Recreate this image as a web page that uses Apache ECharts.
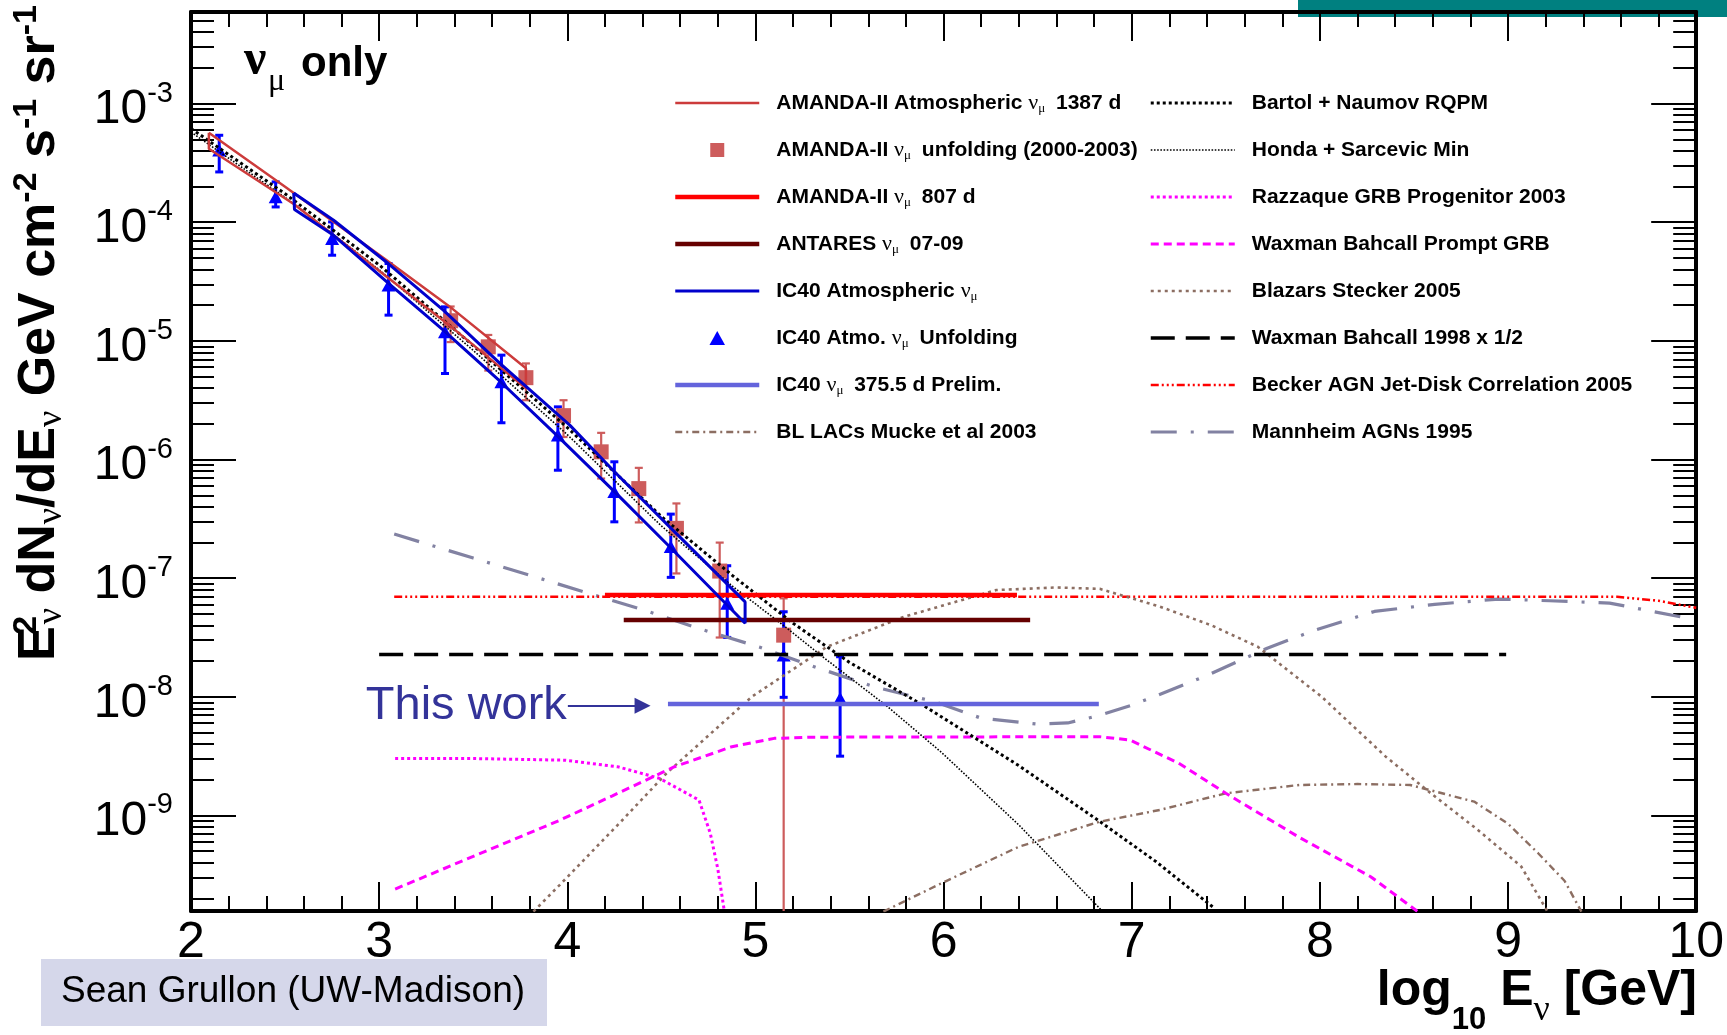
<!DOCTYPE html>
<html>
<head>
<meta charset="utf-8">
<script src="https://cdn.jsdelivr.net/npm/echarts@6/dist/echarts.min.js"></script>
<style>
  html, body { margin: 0; padding: 0; background: #ffffff; }
  #chart { width: 1727px; height: 1035px; }
</style>
</head>
<body>
<div id="chart"></div>
<script>
// x: log10(E / GeV).  Fluxes E^2 dN/dE [GeV cm^-2 s^-1 sr^-1] are stored as log10 exponents.
const xTickValues = [2, 3, 4, 5, 6, 7, 8, 9, 10];
const yDecadeExps = [-9, -8, -7, -6, -5, -4, -3];
const yRangeExp = [-9.805, -2.228];

// AMANDA-II atmospheric 1387 d band (upper and lower edge)
const amanda1387Upper = [[2.095, -3.245], [2.5, -3.70], [3.04, -4.32], [3.39, -4.73], [3.78, -5.23]];
const amanda1387Lower = [[2.095, -3.38], [2.55, -3.85], [3.04, -4.46], [3.39, -4.89], [3.78, -5.40]];

// AMANDA-II unfolding (2000-2003)
const amandaUnfoldE    = [3.38, 3.58, 3.78, 3.98, 4.18, 4.38, 4.58, 4.81, 5.15];
const amandaUnfoldFlux = [-4.83, -5.05, -5.31, -5.63, -5.935, -6.245, -6.58, -6.94, -7.48];
const amandaUnfoldHi   = [-4.71, -4.95, -5.19, -5.50, -5.775, -6.07, -6.37, -6.70, -7.17];
const amandaUnfoldLo   = [-5.01, -5.25, -5.50, -5.81, -6.16, -6.53, -6.96, -7.50, -12];

// Upper limits
const amanda807  = [[4.20, -7.142], [6.39, -7.142]];
const antares    = [[4.30, -7.353], [6.46, -7.353]];
const ic40Prelim = [[4.535, -8.06], [6.825, -8.06]];
const wb1998     = [[3.0, -7.643], [8.99, -7.643]];

// IC40 atmospheric band
const ic40AtmUpper = [[2.546, -3.753], [2.758, -3.983], [3.05, -4.35], [3.341, -4.74], [3.642, -5.19],
                      [4.013, -5.71], [4.243, -6.09], [4.544, -6.567], [4.945, -7.20]];
const ic40AtmLower = [[2.55, -3.893], [2.758, -4.11], [3.05, -4.516], [3.341, -4.91], [3.642, -5.34],
                      [3.943, -5.794], [4.252, -6.272], [4.544, -6.735], [4.945, -7.38]];

// IC40 atmospheric unfolding
const ic40UnfoldE    = [2.15, 2.45, 2.75, 3.05, 3.35, 3.65, 3.95, 4.25, 4.55, 4.85, 5.15, 5.45];
const ic40UnfoldFlux = [-3.393, -3.787, -4.138, -4.531, -4.924, -5.345, -5.794, -6.272, -6.735, -7.212, -7.648, -8.013];
const ic40UnfoldHi   = [-3.267, -3.66, -3.997, -4.348, -4.713, -5.12, -5.556, -6.019, -6.46, -6.895, -7.283, -7.662];
const ic40UnfoldLo   = [-3.576, -3.871, -4.278, -4.783, -5.275, -5.69, -6.09, -6.525, -6.993, -7.499, -8.004, -8.5];

// Models
const blLacs = [[5.68, -9.81], [5.99, -9.57], [6.4, -9.263], [6.83, -9.052], [7.15, -8.953], [7.5, -8.813],
                [7.89, -8.743], [8.2, -8.735], [8.48, -8.743], [8.82, -8.883], [9.0, -9.07], [9.16, -9.318],
                [9.3, -9.55], [9.39, -9.81]];
const bartol = [[2.0, -3.21], [2.5, -3.76], [3.0, -4.36], [3.5, -5.04], [4.0, -5.73], [4.5, -6.48], [4.88, -6.98],
                [5.2, -7.38], [5.5, -7.71], [5.89, -8.07], [6.4, -8.58], [6.83, -9.05], [7.13, -9.39], [7.43, -9.77]];
const honda  = [[2.0, -3.24], [2.5, -3.79], [3.0, -4.40], [3.5, -5.08], [4.0, -5.79], [4.5, -6.56], [4.88, -7.07],
                [5.15, -7.40], [5.38, -7.69], [5.7, -8.08], [5.99, -8.47], [6.4, -9.08], [6.84, -9.80]];
const razzaque = [[3.085, -8.52], [3.5, -8.52], [3.99, -8.534], [4.27, -8.59], [4.49, -8.687], [4.70, -8.87],
                  [4.76, -9.15], [4.80, -9.45], [4.835, -9.81]];
const wbPrompt = [[3.085, -9.62], [3.96, -9.04], [4.24, -8.834], [4.57, -8.589], [4.875, -8.42], [5.1, -8.35],
                  [5.3, -8.34], [6.83, -8.336], [6.99, -8.364], [7.25, -8.56], [7.5, -8.813], [7.886, -9.18],
                  [8.27, -9.516], [8.52, -9.81]];
const stecker = [[3.82, -9.81], [3.96, -9.585], [4.28, -9.06], [4.53, -8.64], [4.98, -8.0], [5.38, -7.578],
                 [5.79, -7.325], [6.28, -7.10], [6.6, -7.078], [6.83, -7.09], [7.15, -7.24], [7.42, -7.395],
                 [7.67, -7.578], [8.01, -8.0], [8.35, -8.504], [8.59, -8.813], [8.84, -9.122], [9.07, -9.43],
                 [9.21, -9.81]];
const becker = [[3.08, -7.157], [9.58, -7.157], [9.8, -7.19], [10.0, -7.25]];
const mannheim = [[3.08, -6.628], [3.5, -6.83], [3.82, -6.985], [4.13, -7.136], [4.43, -7.28], [4.71, -7.43],
                  [5.02, -7.58], [5.32, -7.75], [5.63, -7.915], [5.95, -8.04], [6.2, -8.18], [6.5, -8.23],
                  [6.66, -8.22], [6.82, -8.16], [7.0, -8.07], [7.1, -8.01], [7.4, -7.82], [7.72, -7.59],
                  [7.97, -7.44], [8.29, -7.28], [8.61, -7.22], [8.95, -7.176], [9.22, -7.19], [9.54, -7.21],
                  [9.93, -7.33]];

// "This work" pointer (log10 E range, flux exponent)
const thisWorkArrow = [[4.003, -8.075], [4.40, -8.075]];

const col1Names = ['AMANDA-II Atmospheric νμ 1387 d', 'AMANDA-II νμ unfolding (2000-2003)', 'AMANDA-II νμ 807 d',
                   'ANTARES νμ 07-09', 'IC40 Atmospheric νμ', 'IC40 Atmo. νμ Unfolding', 'IC40 νμ 375.5 d Prelim.',
                   'BL LACs Mucke et al 2003'];
const col2Names = ['Bartol + Naumov RQPM', 'Honda + Sarcevic Min', 'Razzaque GRB Progenitor 2003',
                   'Waxman Bahcall Prompt GRB', 'Blazars Stecker 2005', 'Waxman Bahcall 1998 x 1/2',
                   'Becker AGN Jet-Disk Correlation 2005', 'Mannheim AGNs 1995'];

// ---------------------------------------------------------------------------
const SANS = '"Liberation Sans", Arial, Helvetica, sans-serif';
const SERIF = '"Liberation Serif", "DejaVu Serif", "Times New Roman", serif';
const p10 = e => Math.pow(10, e);
const toXY = pts => pts.map(p => [p[0], p10(p[1])]);
// outline of a band: upper edge, then lower edge back, closed
const closedBand = (up, lo) => up.concat(lo.slice().reverse(), [up[0]]);

const yMin = p10(yRangeExp[0]);
const yMax = p10(yRangeExp[1]);
const yMajor = yDecadeExps.map(p10);
const yMinor = [];
for (let e = -10; e <= -3; e++) {
  for (let m = 2; m <= 9; m++) {
    const v = m * p10(e);
    if (v > yMin && v < yMax) yMinor.push(v);
  }
}

const SQUARE = 'path://M0,0L10,0L10,10L0,10Z';
const TRIANGLE = 'path://M5,0L10,9L0,9Z';

function lineSeries(name, pts, color, width, type) {
  return {
    type: 'line', name, data: toXY(pts), symbol: 'none', showSymbol: false, smooth: false,
    clip: true, silent: true, animation: false,
    lineStyle: { color, width, type: type || 'solid' }, itemStyle: { color },
    emphasis: { disabled: true }
  };
}

function errorBars(name, xs, hi, lo, color, width, cap) {
  return {
    type: 'custom', name, silent: true, clip: true, animation: false,
    data: xs.map((x, i) => [x, p10(hi[i]), p10(lo[i])]),
    encode: { x: 0, y: [1, 2] },
    renderItem(params, api) {
      const x = api.value(0);
      const a = api.coord([x, api.value(1)]);
      const b = api.coord([x, api.value(2)]);
      const style = { stroke: color, lineWidth: width, fill: null };
      return {
        type: 'group',
        children: [
          { type: 'line', shape: { x1: a[0], y1: a[1], x2: b[0], y2: b[1] }, style },
          { type: 'line', shape: { x1: a[0] - cap, y1: a[1], x2: a[0] + cap, y2: a[1] }, style },
          { type: 'line', shape: { x1: b[0] - cap, y1: b[1], x2: b[0] + cap, y2: b[1] }, style }
        ]
      };
    }
  };
}

function markerSeries(name, xs, ys, symbol, size, color) {
  return {
    type: 'scatter', name, data: xs.map((x, i) => [x, p10(ys[i])]), symbol, symbolSize: size,
    symbolKeepAspect: true, silent: true, animation: false, itemStyle: { color, opacity: 1 },
    emphasis: { disabled: true }
  };
}

const ic40PrelimSeries = lineSeries('IC40 νμ 375.5 d Prelim.', ic40Prelim, '#6464dc', 4.5);
ic40PrelimSeries.markLine = {
  silent: true, animation: false,
  symbol: ['none', 'triangle'], symbolSize: 16,
  lineStyle: { color: '#333399', width: 2, type: 'solid' },
  itemStyle: { color: '#333399' },
  label: {
    show: true, position: 'start', distance: 1, formatter: 'This work',
    color: '#333399', fontSize: 47, fontFamily: SANS
  },
  data: [[{ coord: [thisWorkArrow[0][0], p10(thisWorkArrow[0][1])] },
          { coord: [thisWorkArrow[1][0], p10(thisWorkArrow[1][1])] }]]
};

const series = [
  lineSeries('Mannheim AGNs 1995', mannheim, '#8282a2', 3.2, [26, 14, 3, 14]),
  lineSeries('Becker AGN Jet-Disk Correlation 2005', becker, '#ff0000', 2.6, [8, 3, 2, 3, 2, 3, 2, 3]),
  lineSeries('Blazars Stecker 2005', stecker, '#8c6e62', 2.6, [3, 4]),
  lineSeries('BL LACs Mucke et al 2003', blLacs, '#8c6e62', 2.4, [7, 4, 2, 4]),
  lineSeries('Waxman Bahcall Prompt GRB', wbPrompt, '#ff00ff', 3, [8, 5]),
  lineSeries('Razzaque GRB Progenitor 2003', razzaque, '#ff00ff', 3, [3, 3]),
  lineSeries('Waxman Bahcall 1998 x 1/2', wb1998, '#000000', 3.5, [24, 11]),
  lineSeries('Honda + Sarcevic Min', honda, '#000000', 1.6, [1.6, 1.6]),
  lineSeries('Bartol + Naumov RQPM', bartol, '#000000', 3, [3, 3]),
  ic40PrelimSeries,
  lineSeries('ANTARES νμ 07-09', antares, '#660000', 4.5),
  lineSeries('AMANDA-II νμ 807 d', amanda807, '#ff0000', 4.5),
  lineSeries('AMANDA-II Atmospheric νμ 1387 d', closedBand(amanda1387Upper, amanda1387Lower), '#cc3b3b', 2.5),
  errorBars('amandaUnfoldErrors', amandaUnfoldE, amandaUnfoldHi, amandaUnfoldLo, '#cd5c5c', 2.2, 4),
  markerSeries('AMANDA-II νμ unfolding (2000-2003)', amandaUnfoldE, amandaUnfoldFlux, SQUARE, 15, '#cd5c5c'),
  lineSeries('IC40 Atmospheric νμ', closedBand(ic40AtmUpper, ic40AtmLower), '#0000cc', 3),
  errorBars('ic40UnfoldErrors', ic40UnfoldE, ic40UnfoldHi, ic40UnfoldLo, '#0000ff', 3, 4),
  markerSeries('IC40 Atmo. νμ Unfolding', ic40UnfoldE, ic40UnfoldFlux, TRIANGLE, 14, '#0000ff')
];

const xBase = {
  type: 'value', min: 2, max: 10, interval: 1,
  splitLine: { show: false },
  axisLine: { show: true, onZero: false, lineStyle: { color: '#000', width: 4 } },
  axisTick: { show: true, inside: true, length: 29, lineStyle: { color: '#000', width: 2 } },
  minorTick: { show: true, splitNumber: 5, length: 15, lineStyle: { color: '#000', width: 2 } }
};
const yBase = {
  type: 'log', logBase: 10, min: yMin, max: yMax,
  splitLine: { show: false }, minorTick: { show: false }, minorSplitLine: { show: false },
  axisLine: { show: true, onZero: false, lineStyle: { color: '#000', width: 4 } }
};
const yMajorTick = { show: true, inside: true, length: 45, customValues: yMajor, lineStyle: { color: '#000', width: 2 } };
const yMinorTick = { show: true, inside: true, length: 23, customValues: yMinor, lineStyle: { color: '#000', width: 2 } };

const legendText = {
  fontFamily: SANS, fontWeight: 'bold', fontSize: 21, color: '#000', lineHeight: 24,
  padding: [0, 0, 0, 12],
  rich: {
    nu: { fontFamily: SERIF, fontWeight: 'normal', fontSize: 22, lineHeight: 24, color: '#000' },
    mu: { fontFamily: SERIF, fontWeight: 'normal', fontSize: 13, lineHeight: 24, verticalAlign: 'top',
          padding: [11, 5, 0, 0], color: '#000' }
  }
};
const legendFormatter = name => name.replace('νμ', '{nu|ν}{mu|μ}');
const legendCommon = {
  orient: 'vertical', itemWidth: 84, itemHeight: 14, itemGap: 23, selectedMode: false,
  symbolKeepAspect: true, textStyle: legendText, formatter: legendFormatter,
  lineStyle: { width: 'inherit' }, itemStyle: { opacity: 0 }, padding: 0
};

const option = {
  animation: false,
  backgroundColor: '#ffffff',
  grid: { left: 191, right: 29, top: 12, bottom: 124, containLabel: false },
  xAxis: [
    Object.assign({}, xBase, {
      position: 'bottom',
      axisLabel: { show: true, fontSize: 50, color: '#000', fontFamily: SANS, margin: 7 }
    }),
    Object.assign({}, xBase, { position: 'top', axisLabel: { show: false } })
  ],
  yAxis: [
    Object.assign({}, yBase, {
      position: 'left', axisTick: yMajorTick,
      axisLabel: {
        show: true, customValues: yMajor, margin: 18, color: '#000', fontFamily: SANS,
        padding: [9, 0, 0, 0],
        formatter: v => '{b|10}{s|' + Math.round(Math.log10(v)) + '}',
        rich: {
          b: { fontSize: 48, fontFamily: SANS, color: '#000', lineHeight: 58, verticalAlign: 'top', padding: [7, 0, 0, 0] },
          s: { fontSize: 29, fontFamily: SANS, color: '#000', lineHeight: 30, verticalAlign: 'top' }
        }
      }
    }),
    Object.assign({}, yBase, { position: 'left', axisLine: { show: false }, axisTick: yMinorTick, axisLabel: { show: false } }),
    Object.assign({}, yBase, { position: 'right', axisTick: yMajorTick, axisLabel: { show: false } }),
    Object.assign({}, yBase, { position: 'right', axisLine: { show: false }, axisTick: yMinorTick, axisLabel: { show: false } })
  ],
  legend: [
    Object.assign({}, legendCommon, {
      left: 673, top: 91,
      data: col1Names.map(n => {
        if (n === 'AMANDA-II νμ unfolding (2000-2003)') return { name: n, icon: SQUARE, itemStyle: { opacity: 1 } };
        if (n === 'IC40 Atmo. νμ Unfolding') return { name: n, icon: TRIANGLE, itemStyle: { opacity: 1 } };
        return n;
      })
    }),
    Object.assign({}, legendCommon, { left: 1149, top: 91, data: col2Names })
  ],
  series: series,
  graphic: [
    { type: 'rect', shape: { x: 1298, y: 0, width: 429, height: 17 }, style: { fill: '#008080' }, silent: true },
    { type: 'rect', shape: { x: 41, y: 959, width: 506, height: 67 }, style: { fill: '#d5d7ea' }, silent: true },
    { type: 'text', x: 61, y: 992, silent: true,
      style: { text: 'Sean Grullon (UW-Madison)', fontSize: 37, fontFamily: SANS, fill: '#000',
               textAlign: 'left', textVerticalAlign: 'middle', verticalAlign: 'middle' } },
    // νμ only
    { type: 'text', x: 244, y: 61, silent: true,
      style: { text: 'ν', fontSize: 50, fontFamily: SERIF, fontWeight: 'bold', fill: '#000',
               textAlign: 'left', textVerticalAlign: 'middle', verticalAlign: 'middle' } },
    { type: 'text', x: 268, y: 82, silent: true,
      style: { text: 'μ', fontSize: 32, fontFamily: SERIF, fill: '#000',
               textAlign: 'left', textVerticalAlign: 'middle', verticalAlign: 'middle' } },
    { type: 'text', x: 301, y: 64, silent: true,
      style: { text: 'only', fontSize: 42, fontFamily: SANS, fontWeight: 'bold', fill: '#000',
               textAlign: 'left', textVerticalAlign: 'middle', verticalAlign: 'middle' } },
    // y-axis title
    { type: 'text', x: 40, y: 333, rotation: Math.PI / 2, silent: true,
      style: {
        text: '{b|E}{s0|2}{n|ν}{b| dN}{n|ν}{b|/dE}{n|ν}{b| GeV cm}{s|-2}{b| s}{s|-1}{b| sr}{s|-1}',
        textAlign: 'center', textVerticalAlign: 'middle', verticalAlign: 'middle', fill: '#000',
        rich: {
          b: { fontSize: 52, fontFamily: SANS, fontWeight: 'bold', lineHeight: 60, verticalAlign: 'middle', fill: '#000', color: '#000' },
          s: { fontSize: 34, fontFamily: SANS, fontWeight: 'bold', lineHeight: 26, verticalAlign: 'top', fill: '#000', color: '#000' },
          s0: { fontSize: 34, fontFamily: SANS, fontWeight: 'bold', lineHeight: 26, verticalAlign: 'top', width: 2, fill: '#000', color: '#000' },
          n: { fontSize: 36, fontFamily: SERIF, fontWeight: 'normal', lineHeight: 22, verticalAlign: 'bottom', fill: '#000', color: '#000' }
        }
      } },
    // x-axis title
    { type: 'text', x: 1697, y: 991, silent: true,
      style: {
        text: '{b|log}{d|10}{b| E}{n|ν}{b| [GeV]}',
        textAlign: 'right', textVerticalAlign: 'middle', verticalAlign: 'middle', fill: '#000',
        rich: {
          b: { fontSize: 50, fontFamily: SANS, fontWeight: 'bold', lineHeight: 60, verticalAlign: 'middle', fill: '#000', color: '#000' },
          d: { fontSize: 31, fontFamily: SANS, fontWeight: 'bold', lineHeight: 38, verticalAlign: 'top',
               padding: [44, 0, 0, 0], fill: '#000', color: '#000' },
          n: { fontSize: 36, fontFamily: SERIF, fontWeight: 'normal', lineHeight: 40, verticalAlign: 'top',
               padding: [32, 0, 0, 0], fill: '#000', color: '#000' }
        }
      } }
  ]
};

const chart = echarts.init(document.getElementById('chart'), null, { renderer: 'canvas', width: 1727, height: 1035 });
chart.setOption(option);
</script>
</body>
</html>
